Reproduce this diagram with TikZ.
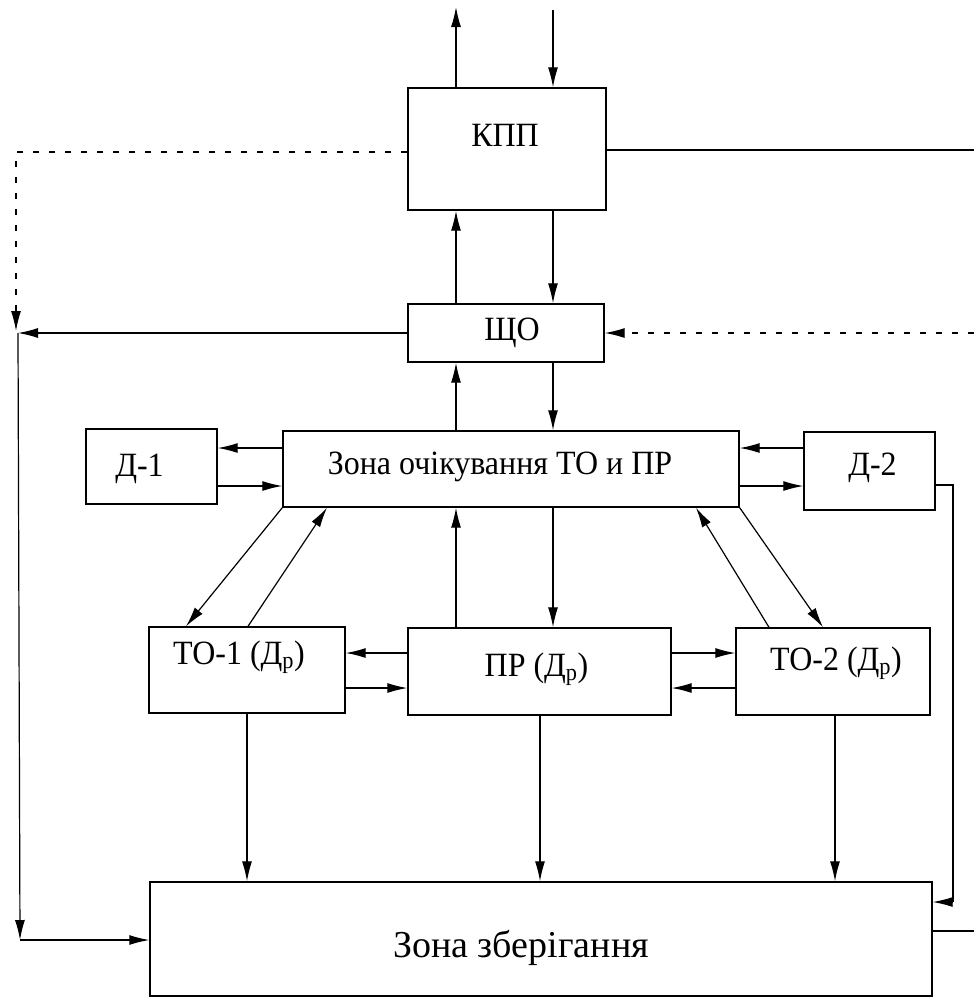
\documentclass[tikz,border=0pt]{standalone}
\usepackage{fontspec}
\usepackage{graphicx}
\setmainfont{Liberation Serif}
\usetikzlibrary{arrows.meta,calc}
\newcommand{\sxt}[1]{\scalebox{0.94}[1]{#1}}
\begin{document}
\begin{tikzpicture}[x=1pt,y=-1pt,
  box/.style={draw,line width=1.4pt,inner sep=0pt},
  txt/.style={font=\fontsize{34}{40}\selectfont,inner sep=0pt},
  bigtxt/.style={font=\fontsize{38}{44}\selectfont,inner sep=0pt},
  ln/.style={line width=1.2pt},
  arr/.style={line width=1.2pt,-{Latex[length=20pt,width=10pt]}},
  dsh/.style={dash pattern=on 6pt off 10pt}]
\useasboundingbox (0,0) rectangle (974,1005);
% boxes
\node[box,minimum width=198pt,minimum height=122pt,label={[txt,yshift=14pt,xshift=-2pt]center:\sxt{КПП}}] (kpp) at (507,149) {};
\node[box,minimum width=196pt,minimum height=58pt,label={[txt,yshift=0pt,xshift=6pt]center:\sxt{ЩО}}] (shcho) at (506,333) {};
\node[box,minimum width=456pt,minimum height=76pt,label={[txt,yshift=2pt,xshift=-11pt]center:\sxt{Зона очікування ТО и ПР}}] (zo) at (511,469) {};
\node[box,minimum width=131pt,minimum height=75pt,label={[txt,yshift=-2pt,xshift=-12pt]center:\sxt{Д-1}}] (d1) at (151.5,466.5) {};
\node[box,minimum width=131pt,minimum height=78pt,label={[txt,yshift=3pt,xshift=3pt]center:\sxt{Д-2}}] (d2) at (869.5,471) {};
\node[box,minimum width=196pt,minimum height=86pt,label={[txt,yshift=13pt,xshift=-8pt]center:\sxt{ТО-1 (Д\textsubscript{р})}}] (to1) at (247,670) {};
\node[box,minimum width=263pt,minimum height=87pt,label={[txt,yshift=2pt,xshift=-3pt]center:\sxt{ПР (Д\textsubscript{р})}}] (pr) at (539.5,671.5) {};
\node[box,minimum width=194pt,minimum height=87pt,label={[txt,yshift=8pt,xshift=3pt]center:\sxt{ТО-2 (Д\textsubscript{р})}}] (to2) at (833,671.5) {};
\node[box,minimum width=782pt,minimum height=114pt,label={[bigtxt,yshift=-9pt,xshift=-20pt]center:Зона зберігання}] (zb) at (541,939) {};
% helper coordinates
\coordinate (xa) at (456,0);
\coordinate (xb) at (553,0);
\coordinate (topa) at (456,7);
\coordinate (topb) at (553,10);
\coordinate (lt) at (16,152);
\coordinate (lj) at (18,333);
\coordinate (ld) at (16,308);
\coordinate (le) at (16,331);
\coordinate (lb) at (20,940);
\coordinate (rt) at (974,150);
\coordinate (rm) at (974,333);
\coordinate (rb) at (974,931);
\coordinate (d2r) at (953,485);
\coordinate (zbr) at (953,902);
\coordinate (ya) at (0,448);
\coordinate (yb) at (0,486);
\coordinate (yc) at (0,653);
\coordinate (yd) at (0,688);
% top
\draw[arr] (kpp.north -| xa) -- (topa);
\draw[arr] (topb) -- (kpp.north -| xb);
% KPP - SHCHO
\draw[arr] (shcho.north -| xa) -- (kpp.south -| xa);
\draw[arr] (kpp.south -| xb) -- (shcho.north -| xb);
% SHCHO - zone
\draw[arr] (zo.north -| xa) -- (shcho.south -| xa);
\draw[arr] (shcho.south -| xb) -- (zo.north -| xb);
% zone - PR
\draw[arr] (pr.north -| xa) -- (zo.south -| xa);
\draw[arr] (zo.south -| xb) -- (pr.north -| xb);
% left side
\draw[ln,dsh] (kpp.west |- lt) -- (lt) -- (ld);
\draw[arr] (ld) -- (le);
\draw[arr] (shcho.west) -- (lj);
\draw[arr] (lj) -- (lb);
\draw[arr] (lb) -- (zb.west |- lb);
% right side
\draw[ln] (kpp.east |- rt) -- (rt);
\draw[arr,dsh] (rm) -- (shcho.east);
\draw[ln] (zb.east |- rb) -- (rb);
\draw[ln] (d2.east |- d2r) -- (d2r) -- (zbr);
\draw[arr] (zbr) -- (zb.east |- zbr);
% D-1 / D-2
\draw[arr] (zo.west |- ya) -- (d1.east |- ya);
\draw[arr] (d1.east |- yb) -- (zo.west |- yb);
\draw[arr] (d2.west |- ya) -- (zo.east |- ya);
\draw[arr] (zo.east |- yb) -- (d2.west |- yb);
% diagonals
\coordinate (c1) at (186,0);
\coordinate (c2) at (248,0);
\coordinate (c3) at (327,0);
\coordinate (c4) at (823,0);
\coordinate (c5) at (769,0);
\coordinate (c6) at (696,0);
\draw[arr] (zo.south west) -- (to1.north -| c1);
\draw[arr] (to1.north -| c2) -- (zo.south -| c3);
\draw[arr] (zo.south east) -- (to2.north -| c4);
\draw[arr] (to2.north -| c5) -- (zo.south -| c6);
% middle row
\draw[arr] (pr.west |- yc) -- (to1.east |- yc);
\draw[arr] (to1.east |- yd) -- (pr.west |- yd);
\draw[arr] (pr.east |- yc) -- (to2.west |- yc);
\draw[arr] (to2.west |- yd) -- (pr.east |- yd);
% down to storage
\coordinate (e1) at (247,0);
\coordinate (e2) at (540,0);
\coordinate (e3) at (835,0);
\draw[arr] (to1.south -| e1) -- (zb.north -| e1);
\draw[arr] (pr.south -| e2) -- (zb.north -| e2);
\draw[arr] (to2.south -| e3) -- (zb.north -| e3);
\end{tikzpicture}
\end{document}
